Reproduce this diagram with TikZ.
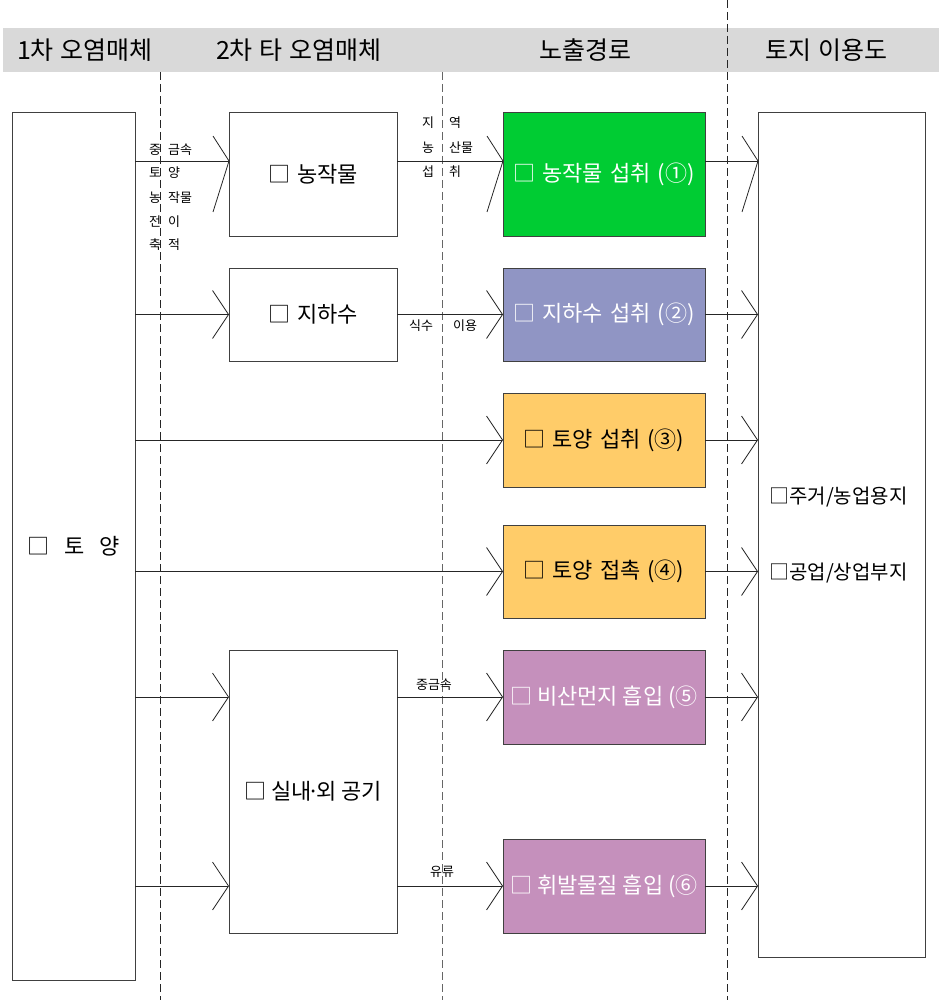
\documentclass[tikz,border=0pt]{standalone}
\usepackage{fontspec}
\setmainfont{Noto Sans CJK KR}
\usetikzlibrary{arrows.meta,calc}
\definecolor{cgreen}{HTML}{00CC33}
\definecolor{cblue}{HTML}{9095C4}
\definecolor{corange}{HTML}{FFCC69}
\definecolor{cpurple}{HTML}{C590BC}
\definecolor{hdr}{HTML}{D9D9D9}
\newcommand\myfs[1]{\fontsize{#1}{#1}\selectfont}
\newcommand\gap{\hspace{7pt}}
\tikzset{
  box/.style={draw=black!75, line width=0.8pt, inner sep=0pt, outer sep=0pt, font=\myfs{22}},
  hdrtext/.style={font=\myfs{25}, inner sep=0pt},
  small/.style={font=\myfs{13}, inner sep=0pt},
  wire/.style={draw=black!85, line width=0.8pt},
  conn/.style={wire, -{Straight Barb[length=16pt,width=48pt,line width=0.8pt]}},
  divider/.style={line width=0.8pt, dash pattern=on 8pt off 4pt},
}
\begin{document}
\begin{tikzpicture}[x=1pt,y=-1pt]
\useasboundingbox (0,0) rectangle (939,1000);
% header band
\fill[hdr] (3,28) rectangle (939,72);
\node[hdrtext] (h1) at (85,50) {1차\gap 오염매체};
\node[hdrtext] (h2) at (299,50) {2차\gap 타\gap 오염매체};
\node[hdrtext] (h3) at (585,50) {노출경로};
\node[hdrtext] (h4) at (826,50) {토지\gap 이용도};
% dividers
\draw[divider, black!85] (160,72) -- (160,1000);
\draw[divider, black!60] (442,72) -- (442,1000);
\draw[divider, black!85] (727,0) -- (727,1000);
% boxes
\node[box, minimum width=123pt, minimum height=868pt, fill=white] (soil) at (73.5,546) {□\hspace{15pt}토\hspace{15pt}양};
\node[box, minimum width=168pt, minimum height=124pt, fill=white] (crop) at (313,174) {□\gap 농작물};
\node[box, minimum width=168pt, minimum height=93pt, fill=white] (gw) at (313,314.5) {□\gap 지하수};
\node[box, minimum width=168pt, minimum height=283pt, fill=white] (air) at (313,791.5) {□ 실내\hspace{-4pt}·\hspace{-4pt}외 공기};
\node[box, minimum width=202pt, minimum height=124pt, fill=cgreen, text=white] (e1) at (604,174) {□\gap 농작물\gap 섭취\gap (①)};
\node[box, minimum width=202pt, minimum height=93pt, fill=cblue, text=white] (e2) at (604,314.5) {□\gap 지하수\gap 섭취\gap (②)};
\node[box, minimum width=202pt, minimum height=94pt, fill=corange] (e3) at (604,440) {□\gap 토양\gap 섭취\gap (③)};
\node[box, minimum width=202pt, minimum height=93pt, fill=corange] (e4) at (604,571.5) {□\gap 토양\gap 접촉\gap (④)};
\node[box, minimum width=202pt, minimum height=94pt, fill=cpurple, text=white] (e5) at (604,697) {□ 비산먼지 흡입 (⑤};
\node[box, minimum width=202pt, minimum height=94pt, fill=cpurple, text=white] (e6) at (604,886) {□ 휘발물질 흡입 (⑥};
\node[box, minimum width=167pt, minimum height=845pt, fill=white] (land) at (841.5,534.5) {};
\node[font=\myfs{20}, inner sep=0pt, anchor=west] (l1) at (769,497) {□주거/농업용지};
\node[font=\myfs{20}, inner sep=0pt, anchor=west] (l2) at (769,573) {□공업/상업부지};
% row 1 (line above box centre, asymmetric heads)
\coordinate (r1) at (0,161);
\coordinate (t1) at (crop.west |- r1);
\coordinate (t2) at (e1.west |- r1);
\coordinate (t3) at (land.west |- r1);
\draw[wire] (soil.east |- r1) -- (t1);
\draw[wire] ($(t1)+(-16,-25)$) -- (t1) -- ($(t1)+(-16,51)$);
\draw[wire] (crop.east |- r1) -- (t2);
\draw[wire] ($(t2)+(-16,-25)$) -- (t2) -- ($(t2)+(-16,51)$);
\draw[wire] (e1.east |- r1) -- (t3);
\draw[wire] ($(t3)+(-16,-25)$) -- (t3) -- ($(t3)+(-16,51)$);
% row 2
\draw[conn] (soil.east |- gw.west) -- (gw.west);
\draw[conn] (gw.east) -- (e2.west);
\draw[conn] (e2.east) -- (land.west |- e2.east);
% row 3
\draw[conn] (soil.east |- e3.west) -- (e3.west);
\draw[conn] (e3.east) -- (land.west |- e3.east);
% row 4
\draw[conn] (soil.east |- e4.west) -- (e4.west);
\draw[conn] (e4.east) -- (land.west |- e4.east);
% row 5
\draw[conn] (soil.east |- e5.west) -- (air.west |- e5.west);
\draw[conn] (air.east |- e5.west) -- (e5.west);
\draw[conn] (e5.east) -- (land.west |- e5.east);
% row 6
\draw[conn] (soil.east |- e6.west) -- (air.west |- e6.west);
\draw[conn] (air.east |- e6.west) -- (e6.west);
\draw[conn] (e6.east) -- (land.west |- e6.east);
% small labels column 1
\node[small] (a1) at (155,150) {중};
\node[small, anchor=west] (a2) at (168,150) {금속};
\node[small] (a3) at (155,173) {토};
\node[small, anchor=west] (a4) at (168,173) {양};
\node[small] (a5) at (155,198) {농};
\node[small, anchor=west] (a6) at (168,198) {작물};
\node[small] (a7) at (155,222) {전};
\node[small, anchor=west] (a8) at (168,222) {이};
\node[small] (a9) at (155,245) {축};
\node[small, anchor=west] (a10) at (168,245) {적};
% small labels column 2
\node[small] (b1) at (428,123) {지};
\node[small, anchor=west] (b2) at (449,123) {역};
\node[small] (b3) at (428,148) {농};
\node[small, anchor=west] (b4) at (449,148) {산물};
\node[small] (b5) at (428,172) {섭};
\node[small, anchor=west] (b6) at (449,172) {취};
\node[small] (c1) at (421,326) {식수};
\node[small] (c2) at (465,326) {이용};
\node[small] (c3) at (434,685) {중금속};
\node[small] (c4) at (442,872) {유류};
\end{tikzpicture}
\end{document}
